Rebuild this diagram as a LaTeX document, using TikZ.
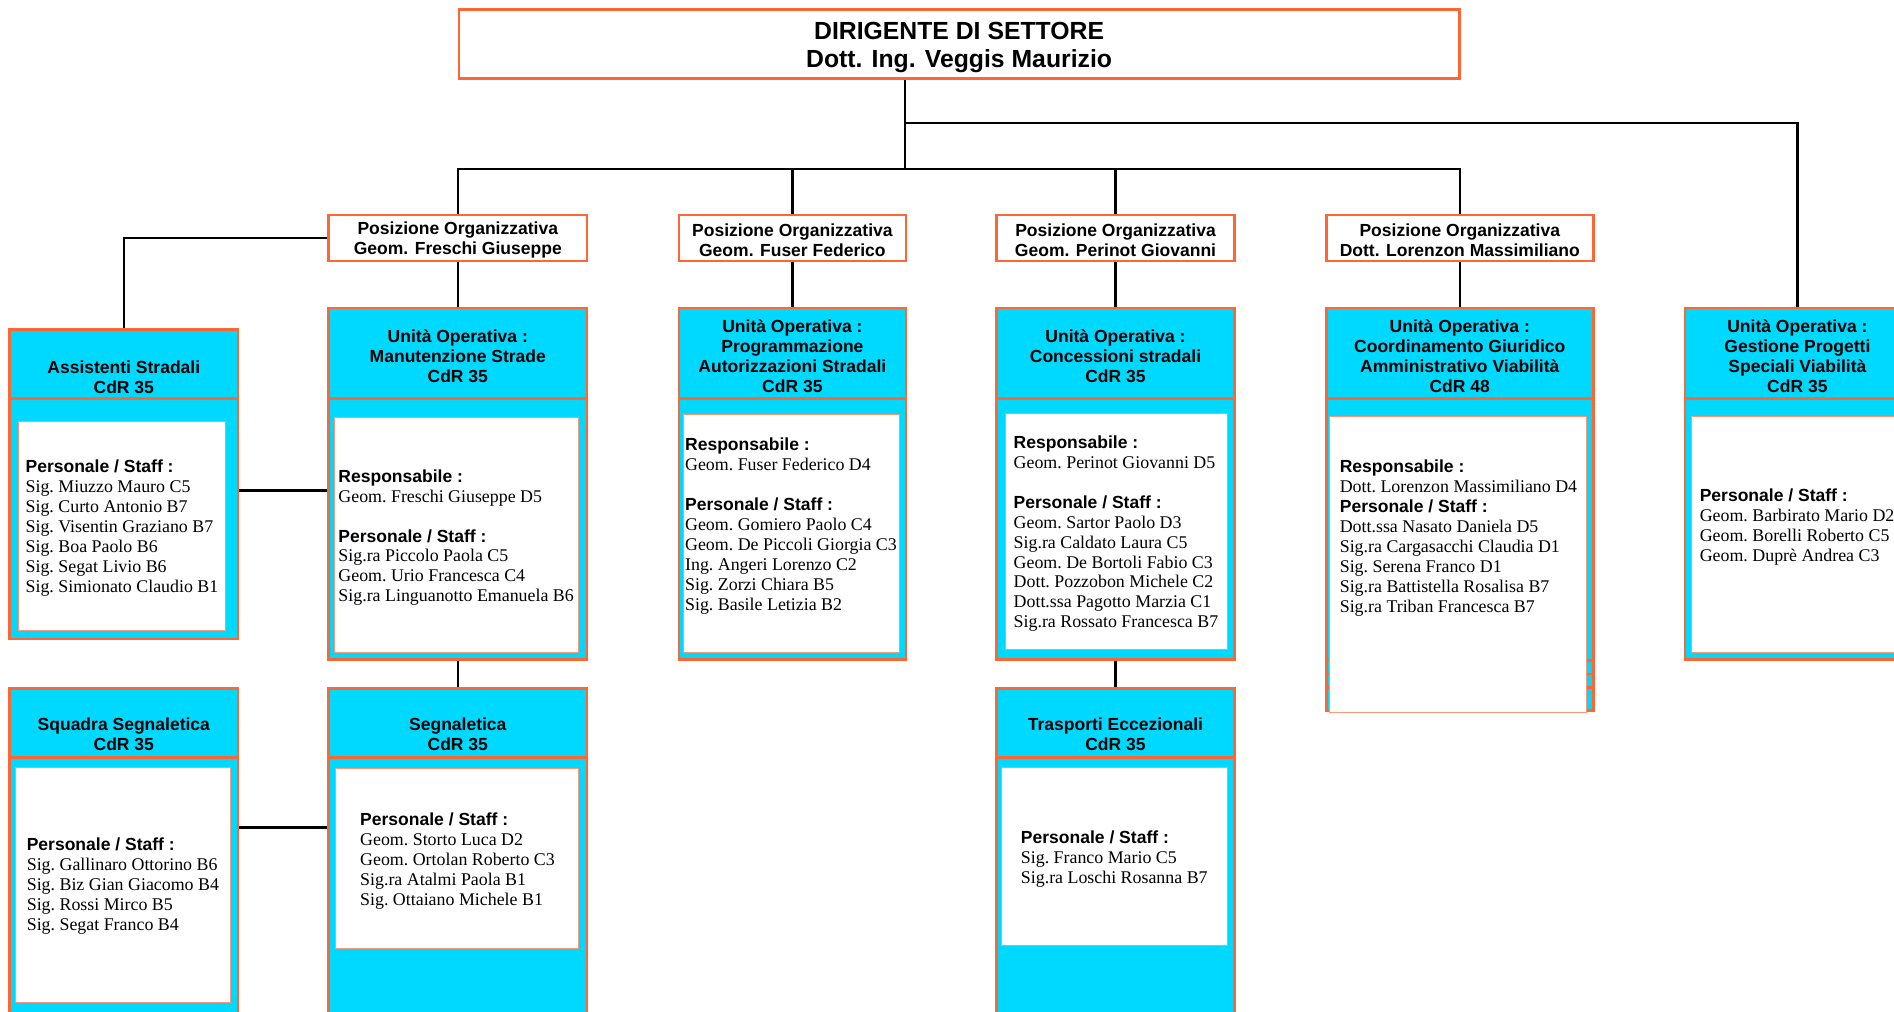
\documentclass[tikz,border=0pt]{standalone}
\usepackage{fontspec}
\setmainfont{Liberation Serif}
\newfontfamily\hsf{Liberation Sans}
\definecolor{bord}{RGB}{255,102,51}
\definecolor{cyanf}{RGB}{0,217,255}
\definecolor{innerb}{RGB}{255,150,120}
\tikzset{
  pobox/.style={draw=bord, fill=white, line width=2.2pt, inner sep=0pt, minimum height=38pt},
  uobox/.style={draw=bord, fill=cyanf, line width=2.2pt, inner sep=0pt},
  sepline/.style={draw=bord, line width=2.2pt},
  innerbox/.style={draw=innerb, fill=white, line width=0.8pt},
  conn/.style={draw=black, line width=2pt},
  headtxt/.style={align=center, inner sep=0pt, font=\hsf\bfseries\fontsize{14.5}{16.7}\selectfont},
  toptxt/.style={align=center, inner sep=0pt, font=\hsf\bfseries\fontsize{20.5}{23.5}\selectfont},
  bodytxt/.style={anchor=north west, align=left, inner sep=0pt, font=\fontsize{14.8}{16.5}\selectfont\frenchspacing},
}
\newcommand\hd[1]{{\hsf\bfseries\fontsize{14.5}{16.5}\selectfont #1}}
\begin{document}
\begin{tikzpicture}[x=1pt, y=-1pt]
\path[use as bounding box, fill=white] (0,0) rectangle (1568,837.8);

% top box
\node[pobox, minimum width=828pt, minimum height=57pt] (dir) at (794,36.5) {};
\node[toptxt] (dirt) at (794,39.5) {DIRIGENTE DI SETTORE\\Dott. Ing. Veggis Maurizio};

% PO boxes
\node[pobox, minimum width=214pt] (poF) at (379,197) {};
\node[pobox, minimum width=188pt] (poU) at (656,197) {};
\node[pobox, minimum width=197pt] (poP) at (923.5,197) {};
\node[pobox, minimum width=221pt] (poL) at (1208.5,197) {};
\node[headtxt] (poFt) at (379,199) {Posizione Organizzativa\\Geom. Freschi Giuseppe};
\node[headtxt] (poUt) at (656,199) {Posizione Organizzativa\\Geom. Fuser Federico};
\node[headtxt] (poPt) at (923.5,199) {Posizione Organizzativa\\Geom. Perinot Giovanni};
\node[headtxt] (poLt) at (1208.5,199) {Posizione Organizzativa\\Dott. Lorenzon Massimiliano};

% UO boxes
\node[uobox, minimum width=189pt, minimum height=256pt] (asst) at (102.5,401) {};
\node[uobox, minimum width=214pt, minimum height=291pt] (manu) at (379,400.5) {};
\node[uobox, minimum width=189pt, minimum height=300pt] (squa) at (102.5,720) {};
\node[uobox, minimum width=214pt, minimum height=300pt] (segn) at (379,720) {};
\node[uobox, minimum width=188pt, minimum height=291pt] (prog) at (656,400.5) {};
\node[uobox, minimum width=197pt, minimum height=291pt] (conc) at (923.5,400.5) {};
\node[uobox, minimum width=197pt, minimum height=300pt] (tras) at (923.5,720) {};
\node[uobox, minimum width=221pt, minimum height=333pt] (coor) at (1208.5,421.5) {};
\node[uobox, minimum width=186pt, minimum height=291pt] (gest) at (1488,400.5) {};

% header separators
\foreach \n in {asst,manu,prog,conc,coor,gest}
  \draw[sepline] (\n.west |- 0,330) -- (\n.east |- 0,330);
\foreach \n in {squa,segn,tras}
  \draw[sepline] (\n.west |- 0,627) -- (\n.east |- 0,627);
% stacked bottom edges of coordinamento
\foreach \yy in {547,558,569}
  \draw[sepline] (coor.west |- 0,\yy) -- (coor.east |- 0,\yy);

% inner white boxes
\draw[innerbox] (15,349) rectangle (187,522);
\draw[innerbox] (277,346) rectangle (479,540);
\draw[innerbox] (13,635) rectangle (191,830);
\draw[innerbox] (278,636) rectangle (479,785);
\draw[innerbox] (566,343) rectangle (745,540);
\draw[innerbox] (832,342) rectangle (1016,538);
\draw[innerbox] (829,635) rectangle (1016,783);
\draw[innerbox] (1101,345) rectangle (1313,590);
\draw[innerbox] (1400,345) rectangle (1575,540);

% header texts
\node[headtxt] (asstH) at (102.5,312.5) {Assistenti Stradali\\CdR 35};
\node[headtxt] (manuH) at (379,295) {Unità Operativa :\\Manutenzione Strade\\CdR 35};
\node[headtxt] (progH) at (656,295) {Unità Operativa :\\Programmazione\\Autorizzazioni Stradali\\CdR 35};
\node[headtxt] (concH) at (923.5,295) {Unità Operativa :\\Concessioni stradali\\CdR 35};
\node[headtxt] (coorH) at (1208.5,295) {Unità Operativa :\\Coordinamento Giuridico\\Amministrativo Viabilità\\CdR 48};
\node[headtxt] (gestH) at (1488,295) {Unità Operativa :\\Gestione Progetti\\Speciali Viabilità\\CdR 35};
\node[headtxt] (squaH) at (102.5,608) {Squadra Segnaletica\\CdR 35};
\node[headtxt] (segnH) at (379,608) {Segnaletica\\CdR 35};
\node[headtxt] (trasH) at (923.5,608) {Trasporti Eccezionali\\CdR 35};

% body texts
\node[bodytxt] (asstB) at (21,379.5) {\strut\hd{Personale / Staff :}\\Sig. Miuzzo Mauro C5\\Sig. Curto Antonio B7\\Sig. Visentin Graziano B7\\Sig. Boa Paolo B6\\Sig. Segat Livio B6\\Sig. Simionato Claudio B1};
\node[bodytxt] (manuB) at (280,387.5) {\strut\hd{Responsabile :}\\Geom. Freschi Giuseppe D5\\[16.5pt]\hd{Personale / Staff :}\\Sig.ra Piccolo Paola C5\\Geom. Urio Francesca C4\\Sig.ra Linguanotto Emanuela B6};
\node[bodytxt] (squaB) at (22,692.5) {\strut\hd{Personale / Staff :}\\Sig. Gallinaro Ottorino B6\\Sig. Biz Gian Giacomo B4\\Sig. Rossi Mirco B5\\Sig. Segat Franco B4};
\node[bodytxt] (segnB) at (298,671.5) {\strut\hd{Personale / Staff :}\\Geom. Storto Luca D2\\Geom. Ortolan Roberto C3\\Sig.ra Atalmi Paola B1\\Sig. Ottaiano Michele B1};
\node[bodytxt] (progB) at (567,361.5) {\strut\hd{Responsabile :}\\Geom. Fuser Federico D4\\[16.5pt]\hd{Personale / Staff :}\\Geom. Gomiero Paolo C4\\Geom. De Piccoli Giorgia C3\\Ing. Angeri Lorenzo C2\\Sig. Zorzi Chiara B5\\Sig. Basile Letizia B2};
\node[bodytxt] (concB) at (839,359.5) {\strut\hd{Responsabile :}\\Geom. Perinot Giovanni D5\\[16.5pt]\hd{Personale / Staff :}\\Geom. Sartor Paolo D3\\Sig.ra Caldato Laura C5\\Geom. De Bortoli Fabio C3\\Dott. Pozzobon Michele C2\\Dott.ssa Pagotto Marzia C1\\Sig.ra Rossato Francesca B7};
\node[bodytxt] (trasB) at (845,686.5) {\strut\hd{Personale / Staff :}\\Sig. Franco Mario C5\\Sig.ra Loschi Rosanna B7};
\node[bodytxt] (coorB) at (1109,379.5) {\strut\hd{Responsabile :}\\Dott. Lorenzon Massimiliano D4\\\hd{Personale / Staff :}\\Dott.ssa Nasato Daniela D5\\Sig.ra Cargasacchi Claudia D1\\Sig. Serena Franco D1\\Sig.ra Battistella Rosalisa B7\\Sig.ra Triban Francesca B7};
\node[bodytxt] (gestB) at (1407,403.5) {\strut\hd{Personale / Staff :}\\Geom. Barbirato Mario D2\\Geom. Borelli Roberto C5\\Geom. Duprè Andrea C3};

% connectors
\coordinate (tap) at (749,140);
\coordinate (tap2) at (749,102);
\draw[conn] (tap |- dir.south) -- (tap);
\draw[conn] (poF.north) -- (poF.north |- tap) -- (poL.north |- tap) -- (poL.north);
\draw[conn] (poU.north) -- (poU.north |- tap);
\draw[conn] (poP.north) -- (poP.north |- tap);
\draw[conn] (tap2) -| (gest.north);
\draw[conn] (poF.west) -| (asst.north);
\draw[conn] (poF.south) -- (manu.north);
\draw[conn] (poU.south) -- (prog.north);
\draw[conn] (poP.south) -- (conc.north);
\draw[conn] (poL.south) -- (coor.north);
\draw[conn] (manu.south) -- (segn.north);
\draw[conn] (conc.south) -- (tras.north);
\coordinate (h1) at (0,406);
\coordinate (h2) at (0,685);
\draw[conn] (asst.east |- h1) -- (manu.west |- h1);
\draw[conn] (squa.east |- h2) -- (segn.west |- h2);
\end{tikzpicture}
\end{document}
